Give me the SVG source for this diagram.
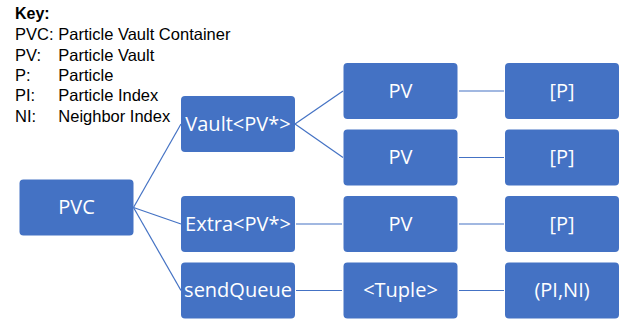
<svg xmlns="http://www.w3.org/2000/svg" width="619" height="320" viewBox="0 0 619 320">
<style>
.box{fill:#4472C4;}
.lbl{fill:#ffffff;font-family:"Open Sans","Noto Sans",sans-serif;font-size:20px;text-anchor:middle;}
.key{fill:#000000;font-family:"Liberation Sans",Arial,sans-serif;font-size:16.5px;}
.keyb{font-weight:bold;font-size:16px;}
.con{stroke:#4472C4;stroke-width:1.2;fill:none;}
</style>
<rect width="619" height="320" fill="#ffffff"/>
<g id="key">
<text class="key keyb" x="15" y="19">Key:</text>
<text class="key" x="15" y="40">PVC:</text>
<text class="key" x="58.3" y="40">Particle Vault Container</text>
<text class="key" x="15" y="60.5">PV:</text>
<text class="key" x="58.3" y="60.5">Particle Vault</text>
<text class="key" x="15" y="81">P:</text>
<text class="key" x="58.3" y="81">Particle</text>
<text class="key" x="15" y="101">PI:</text>
<text class="key" x="58.3" y="101">Particle Index</text>
<text class="key" x="15" y="121.5">NI:</text>
<text class="key" x="58.3" y="121.5">Neighbor Index</text>
</g>
<g id="connectors">
<line class="con" x1="133.5" y1="207.5" x2="181" y2="124"/>
<line class="con" x1="133.5" y1="207.5" x2="181" y2="224"/>
<line class="con" x1="133.5" y1="207.5" x2="181" y2="290.5"/>
<line class="con" x1="295" y1="124" x2="343" y2="91"/>
<line class="con" x1="295" y1="124" x2="343" y2="157.5"/>
<line class="con" x1="296" y1="224" x2="342" y2="224"/>
<line class="con" x1="296" y1="290.5" x2="342" y2="290.5"/>
<line class="con" x1="459" y1="91" x2="504" y2="91"/>
<line class="con" x1="459" y1="157.5" x2="504" y2="157.5"/>
<line class="con" x1="459" y1="224" x2="504" y2="224"/>
<line class="con" x1="459" y1="290.5" x2="504" y2="290.5"/>
</g>
<g id="pvc"><rect class="box" x="19.5" y="179.5" width="114" height="56" rx="4"/><text class="lbl" x="76.5" y="214">PVC</text></g>
<g id="vault"><rect class="box" x="181" y="96" width="114" height="56" rx="4"/><text class="lbl" x="238" y="130.5">Vault&lt;PV*&gt;</text></g>
<g id="extra"><rect class="box" x="181" y="196" width="114" height="56" rx="4"/><text class="lbl" x="238" y="230.5">Extra&lt;PV*&gt;</text></g>
<g id="sendqueue"><rect class="box" x="181" y="262.5" width="114" height="56" rx="4"/><text class="lbl" x="238" y="297">sendQueue</text></g>
<g id="pv1"><rect class="box" x="343.5" y="63" width="114" height="56" rx="4"/><text class="lbl" x="400.5" y="97.5">PV</text></g>
<g id="pv2"><rect class="box" x="343.5" y="129.5" width="114" height="56" rx="4"/><text class="lbl" x="400.5" y="164">PV</text></g>
<g id="pv3"><rect class="box" x="343.5" y="196" width="114" height="56" rx="4"/><text class="lbl" x="400.5" y="230.5">PV</text></g>
<g id="tuple"><rect class="box" x="343.5" y="262.5" width="114" height="56" rx="4"/><text class="lbl" x="400.5" y="297">&lt;Tuple&gt;</text></g>
<g id="p1"><rect class="box" x="505" y="63" width="114" height="56" rx="4"/><text class="lbl" x="562" y="97.5">[P]</text></g>
<g id="p2"><rect class="box" x="505" y="129.5" width="114" height="56" rx="4"/><text class="lbl" x="562" y="164">[P]</text></g>
<g id="p3"><rect class="box" x="505" y="196" width="114" height="56" rx="4"/><text class="lbl" x="562" y="230.5">[P]</text></g>
<g id="pini"><rect class="box" x="505" y="262.5" width="114" height="56" rx="4"/><text class="lbl" x="562" y="297">(PI,NI)</text></g>
</svg>
